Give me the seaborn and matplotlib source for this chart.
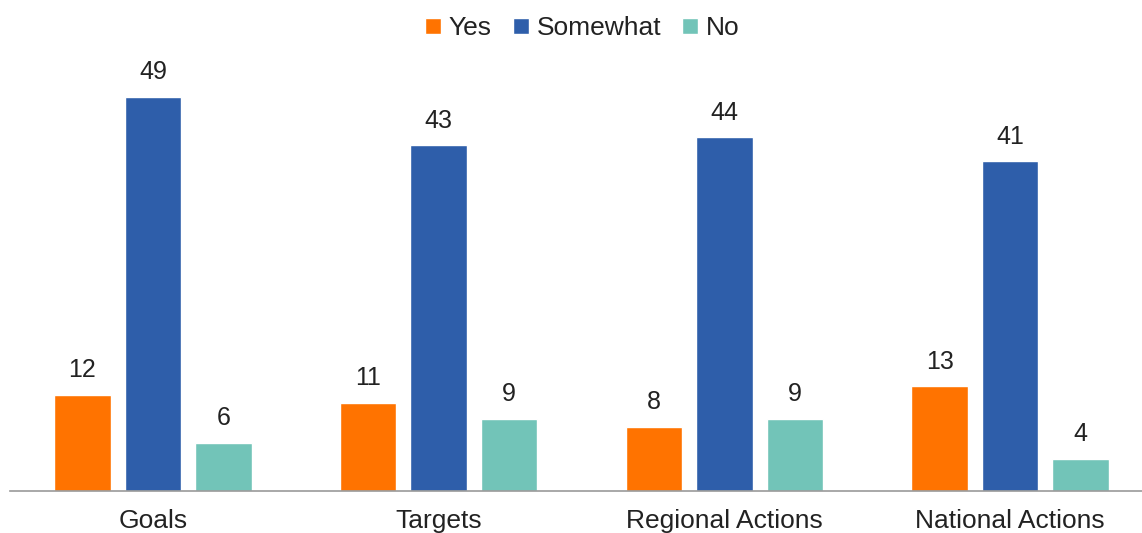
import matplotlib
matplotlib.use("Agg")
import matplotlib.pyplot as plt
import seaborn as sns
import pandas as pd
from matplotlib.patches import Patch

categories = ["Goals", "Targets", "Regional Actions", "National Actions"]
responses = ["Yes", "Somewhat", "No"]
yes_values = [12, 11, 8, 13]
somewhat_values = [49, 43, 44, 41]
no_values = [6, 9, 9, 4]
palette = ["#FF7300", "#2E5EAA", "#72C4B8"]

df = pd.DataFrame({
    "category": categories * 3,
    "response": ["Yes"] * 4 + ["Somewhat"] * 4 + ["No"] * 4,
    "value": yes_values + somewhat_values + no_values,
})

sns.set_style("white")
plt.rcParams["font.family"] = ["Liberation Sans", "DejaVu Sans"]

fig = plt.figure(figsize=(11.42, 5.33), dpi=100)
ax = fig.add_axes([10 / 1142, 42 / 533, 1143 / 1142, 431 / 533])

sns.barplot(data=df, x="category", y="value", hue="response",
            order=categories, hue_order=responses, palette=palette,
            width=0.74, gap=0.2, saturation=1, legend=False, ax=ax,
            errorbar=None)

for cont in ax.containers:
    ax.bar_label(cont, fmt="%d", padding=9, fontsize=18, color="#222222")

ax.set_xlim(-0.5, 3.5)
ax.set_ylim(0, 53.6)
ax.set_xlabel("")
ax.set_ylabel("")
ax.set_yticks([])
for side in ["top", "right", "left"]:
    ax.spines[side].set_visible(False)
ax.spines["bottom"].set_color("#999999")
ax.spines["bottom"].set_linewidth(1.2)
ax.tick_params(axis="x", length=0, pad=13, labelsize=19, labelcolor="#222222")

handles = [Patch(facecolor=c, label=r) for c, r in zip(palette, responses)]
fig.legend(handles=handles, loc="center", bbox_to_anchor=(0.51, 0.947),
           ncol=3, frameon=False, fontsize=19, handlelength=0.6, handleheight=0.6,
           handletextpad=0.3, columnspacing=0.8, labelcolor="#222222")

fig.savefig("out.png", dpi=100)
